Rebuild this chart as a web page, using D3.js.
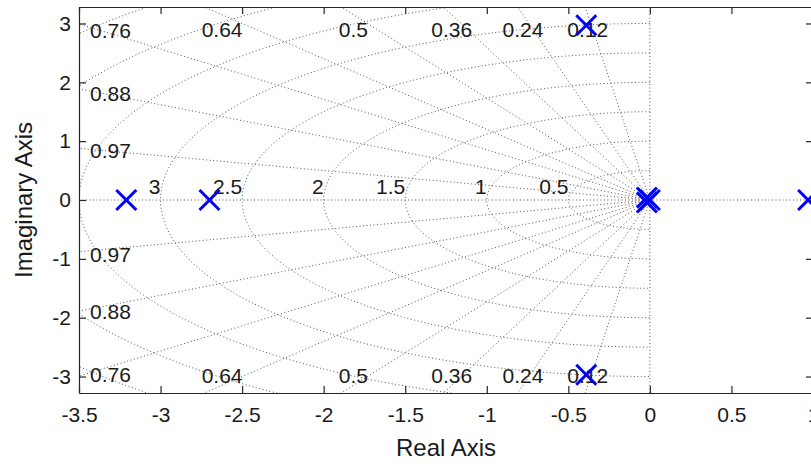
<!DOCTYPE html>
<html>
<head>
<meta charset="utf-8">
<script src="https://cdn.jsdelivr.net/npm/d3@7"></script>
<style>
  html, body { margin: 0; padding: 0; background: #fff; }
  svg { display: block; }
  text { font-family: "Liberation Sans", Arial, sans-serif; fill: #1a1a1a; }
</style>
</head>
<body>
<svg id="chart" width="811" height="466"></svg>
<script>
// Pole-zero map with s-plane damping / natural-frequency grid
const xTicks = [-3.5, -3, -2.5, -2, -1.5, -1, -0.5, 0, 0.5, 1];
const yTicks = [-3, -2, -1, 0, 1, 2, 3];
const xLimits = [-3.5, 1];
const yLimits = [-3.28, 3.28];

const dampingRatios = [0.12, 0.24, 0.36, 0.5, 0.64, 0.76, 0.88, 0.97];
const naturalFreqs = [0.5, 1, 1.5, 2, 2.5, 3, 3.5, 4, 4.5, 5];

// poles (real part, imaginary part)
const poleRe = [-3.21, -2.70, -0.39, -0.39, 0, -0.018, -0.018, 0.97];
const poleIm = [0, 0, 2.97, -2.97, 0, 0.04, -0.04, 0];

const box = { left: 79, top: 7, right: 813, bottom: 393 };

const svg = d3.select("#chart");
const x = d3.scaleLinear().domain(xLimits).range([box.left, box.right]);
const y = d3.scaleLinear().domain(yLimits).range([box.bottom, box.top]);

svg.append("defs").append("clipPath").attr("id", "plotClip")
  .append("rect")
  .attr("x", box.left).attr("y", box.top)
  .attr("width", box.right - box.left).attr("height", box.bottom - box.top);

const grid = svg.append("g").attr("clip-path", "url(#plotClip)")
  .attr("fill", "none")
  .attr("stroke", "#555")
  .attr("stroke-width", 1)
  .attr("stroke-dasharray", "1,2.5");

const line = d3.line().x(d => x(d[0])).y(d => y(d[1]));

// real and imaginary axes
grid.append("path").attr("d", line([[xLimits[0], 0], [xLimits[1], 0]]));
grid.append("path").attr("d", line([[0, yLimits[0]], [0, yLimits[1]]]));

// constant damping rays, starting at the origin
const R = 20;
dampingRatios.forEach(z => {
  const s = Math.sqrt(1 - z * z);
  grid.append("path").attr("d", line([[0, 0], [-z * R, s * R]]));
  grid.append("path").attr("d", line([[0, 0], [-z * R, -s * R]]));
});

// constant natural frequency semicircles in the left half plane
naturalFreqs.forEach(w => {
  const pts = d3.range(0, 181).map(i => {
    const th = Math.PI / 2 + i * Math.PI / 180;
    return [w * Math.cos(th), w * Math.sin(th)];
  });
  grid.append("path").attr("d", line(pts));
});

// damping labels near the plot boundary
const labels = svg.append("g").attr("font-size", 21);
dampingRatios.forEach(z => {
  const s = Math.sqrt(1 - z * z);
  let px = -z * yLimits[1] / s, py = yLimits[1];
  if (px < xLimits[0]) { px = xLimits[0]; py = s * (xLimits[0] / -z); }
  [1, -1].forEach(sign => {
    const t = labels.append("text").attr("text-anchor", "middle").text(String(z));
    const w = t.node().getComputedTextLength();
    let cx = x(0.96 * px);
    cx = Math.max(cx, box.left + 11 + w / 2);
    let cy = y(sign * 0.96 * py);
    if (sign > 0) cy = Math.max(cy, box.top + 22.5);
    else cy = Math.min(cy, box.bottom - 22.5) + 5;
    t.attr("x", cx).attr("y", cy + 7.5);
  });
});

// natural frequency labels on the negative real axis
naturalFreqs.filter(w => -w > xLimits[0] + 0.05).forEach(w => {
  labels.append("text")
    .attr("text-anchor", "end")
    .attr("x", x(-w))
    .attr("y", y(0) - 6)
    .text(String(w));
});

// axes with inward ticks
const axisColor = "#262626";
const fmt = d => String(d);
const gB = svg.append("g").attr("transform", `translate(0,${box.bottom})`)
  .call(d3.axisBottom(x).tickValues(xTicks).tickFormat(fmt).tickSizeInner(-7).tickSizeOuter(0).tickPadding(14));
const gT = svg.append("g").attr("transform", `translate(0,${box.top})`)
  .call(d3.axisTop(x).tickValues(xTicks).tickFormat("").tickSizeInner(-7).tickSizeOuter(0));
const gL = svg.append("g").attr("transform", `translate(${box.left},0)`)
  .call(d3.axisLeft(y).tickValues(yTicks).tickFormat(fmt).tickSizeInner(-7).tickSizeOuter(0).tickPadding(8));
const gR = svg.append("g").attr("transform", `translate(${box.right},0)`)
  .call(d3.axisRight(y).tickValues(yTicks).tickFormat("").tickSizeInner(-7).tickSizeOuter(0));

[gB, gT, gL, gR].forEach(g => {
  g.selectAll("path, line").attr("stroke", axisColor).attr("stroke-width", 1.2);
  g.selectAll("text").attr("font-size", 21).attr("fill", "#1a1a1a")
    .attr("font-family", "'Liberation Sans', Arial, sans-serif");
});

// pole markers
const poles = poleRe.map((re, i) => [re, poleIm[i]]);
svg.append("g").selectAll("path").data(poles).join("path")
  .attr("transform", d => `translate(${x(d[0])},${y(d[1])})`)
  .attr("d", "M-10,-10L10,10M-10,10L10,-10")
  .attr("stroke", "#0000ff")
  .attr("stroke-width", 3)
  .attr("fill", "none");

// axis titles
svg.append("text")
  .attr("x", (box.left + box.right) / 2)
  .attr("y", 456)
  .attr("text-anchor", "middle")
  .attr("font-size", 24)
  .text("Real Axis");

svg.append("text")
  .attr("transform", `translate(32,${(box.top + box.bottom) / 2}) rotate(-90)`)
  .attr("text-anchor", "middle")
  .attr("font-size", 24)
  .text("Imaginary Axis");
</script>
</body>
</html>
